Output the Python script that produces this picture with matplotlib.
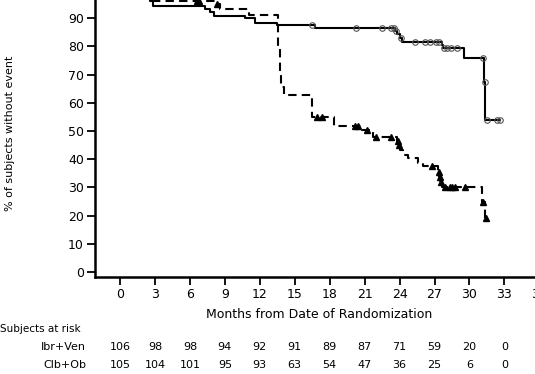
import numpy as np
import matplotlib
matplotlib.use("Agg")
import matplotlib.pyplot as plt

# Kaplan-Meier step curves (months, % without event)
ibr_t = [0, 1.0, 1.8, 2.3, 2.6, 2.8, 7.3, 7.7, 8.1, 10.7, 11.6, 13.5, 16.7,
         23.6, 23.8, 24.0, 24.2, 27.6, 27.7, 29.5, 31.25, 31.35]
ibr_s = [100, 99.1, 98.1, 97.2, 96.2, 94.5, 93.4, 92.2, 90.8, 89.9, 88.3, 87.5,
         86.4, 85.3, 84.3, 83.0, 81.7, 80.4, 79.3, 75.8, 67.5, 53.9]
ibr_end = 32.6
ibr_cens = [16.5, 20.3, 22.5, 23.3, 23.5, 23.7, 24.1, 25.3, 26.2, 26.6, 27.1,
            27.4, 27.8, 28.1, 28.4, 28.9, 31.2, 31.3, 31.5, 32.4, 32.6]

clb_t = [0, 1.0, 1.9, 2.5, 2.9, 8.2, 8.6, 11.1, 13.6, 13.7, 13.8, 14.1, 16.5,
         18.4, 20.8, 21.7, 23.8, 23.9, 24.0, 24.3, 24.7, 25.6, 26.0, 27.3,
         27.4, 27.5, 27.6, 31.1, 31.35]
clb_s = [100, 99.0, 98.1, 97.1, 96.2, 95.2, 93.2, 91.2, 80.0, 70.0, 65.5, 62.8,
         55.0, 51.8, 50.4, 47.9, 46.3, 45.0, 43.3, 41.5, 40.3, 38.5, 37.6, 35.6,
         33.8, 32.0, 30.3, 24.9, 19.0]
clb_end = 31.4
clb_cens = [6.6, 6.8, 8.3, 16.9, 17.3, 20.2, 20.4, 21.2, 22.0, 23.3, 23.85,
            23.95, 26.8, 27.35, 27.45, 27.55, 27.9, 28.3, 28.5, 28.8, 29.6,
            31.2, 31.4]

months = list(range(0, 37, 3))
at_risk_ibr = ["106", "98", "98", "94", "92", "91", "89", "87", "71", "59", "20", "0", "0"]
at_risk_clb = ["105", "104", "101", "95", "93", "63", "54", "47", "36", "25", "6", "0", "0"]
yticks = list(range(0, 100, 10))


def censor_y(t, s, c):
    idx = np.searchsorted(t, c, side="right") - 1
    return np.array(s)[idx]


fig = plt.figure(figsize=(5.35, 3.74), dpi=100)
ax = fig.add_axes([95 / 535, 1 - 277.3 / 374, 449 / 535, 287.3 / 374])

# Ibr+Ven: solid with open circles
ax.step(ibr_t + [ibr_end], ibr_s + [ibr_s[-1]], where="post",
        color="black", lw=1.5)
ax.plot(ibr_cens, censor_y(ibr_t, ibr_s, ibr_cens), "o", ms=4, mfc="none",
        mec="#555555", mew=0.8)

# Clb+Ob: dashed with filled triangles
ax.step(clb_t + [clb_end], clb_s + [clb_s[-1]], where="post",
        color="black", lw=1.5, dashes=(4, 2.5))
ax.plot(clb_cens, censor_y(clb_t, clb_s, clb_cens), "^", ms=4.5,
        color="black")

ax.set_xlim(-2.15, 36.4)
ax.set_ylim(-1.9, 100)
ax.set_xticks(months)
ax.set_yticks(yticks)
ax.spines["top"].set_visible(False)
ax.spines["right"].set_visible(False)
ax.spines["left"].set_linewidth(1.8)
ax.spines["bottom"].set_linewidth(1.8)
ax.tick_params(axis="both", direction="out", length=6, width=1.3,
               labelsize=9, pad=2)
ax.set_xlabel("Months from Date of Randomization", fontsize=9, labelpad=5)
ax.set_ylabel("% of subjects without event", fontsize=8)
ax.yaxis.set_label_coords(-0.178, 0.5)

# numbers at risk below the axis
fig.text(0, 1 - 329 / 374, "Subjects at risk", fontsize=7.5,
         ha="left", va="center")
for name, vals, ypix in [("Ibr+Ven", at_risk_ibr, 346.5),
                         ("Clb+Ob", at_risk_clb, 364.5)]:
    yf = 1 - ypix / 374
    fig.text(86 / 535, yf, name, fontsize=8, ha="right", va="center")
    for m, v in zip(months, vals):
        xd = ax.transData.transform((m, 0))[0]
        xf = fig.transFigure.inverted().transform((xd, 0))[0]
        fig.text(xf, yf, v, fontsize=8, ha="center", va="center")

fig.savefig("out.png", dpi=100)
